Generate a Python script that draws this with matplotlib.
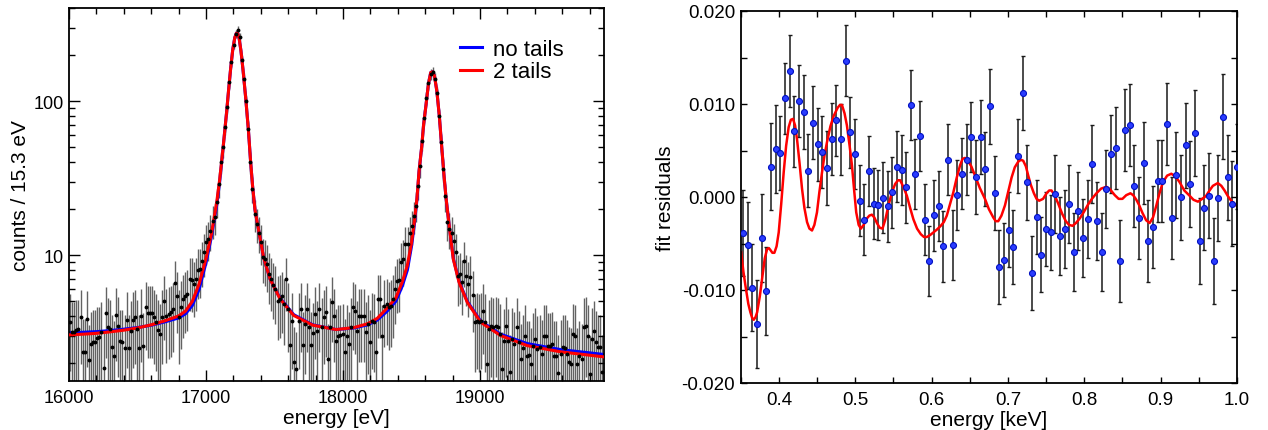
import numpy as np
import matplotlib
matplotlib.use('Agg')
import matplotlib.pyplot as plt
from matplotlib.ticker import (MultipleLocator, LogLocator, NullFormatter,
                               FuncFormatter, FormatStrFormatter)

plt.rcParams['font.family'] = ['Liberation Sans', 'DejaVu Sans']
plt.rcParams['axes.unicode_minus'] = False

# ---------------- left panel data ----------------
BIN_WIDTH = 15.3          # eV
E_START = 16000.0         # eV, lower edge of first bin
counts = [
    3.69, 3.15, 3.15, 3.27, 3.31, 3.94, 2.33, 2.33, 3.84, 2.08,
    2.64, 2.74, 2.74, 2.90, 2.92, 3.15, 1.84, 4.18, 3.39, 3.31,
    2.51, 2.22, 4.08, 3.48, 2.75, 2.74, 2.48, 3.80, 2.48, 3.23,
    3.78, 3.94, 3.30, 2.48, 4.04, 2.58, 4.57, 4.20, 4.20, 4.20,
    3.94, 3.69, 3.27, 3.07, 3.94, 5.05, 4.00, 4.14, 4.25, 4.46,
    6.55, 5.44, 3.94, 4.60, 5.18, 5.44, 5.58, 6.99, 6.89, 6.49,
    6.99, 8.04, 8.11, 9.20, 10.4, 12.1, 12.7, 14.4, 16.7, 17.6,
    22.0, 29.0, 40.0, 50.0, 68.0, 92.0, 132.0, 180.0, 232.0, 272.0,
    290.0, 262.0, 185.0, 140.0, 100.0, 66.0, 40.0, 27.0, 18.5, 15.9,
    14.0, 12.1, 9.66, 9.40, 8.74, 7.53, 6.99, 6.38, 6.00, 5.05,
    5.18, 5.44, 4.80, 6.99, 4.46, 2.62, 3.75, 2.01, 1.82, 3.75,
    4.46, 2.62, 3.57, 4.46, 3.39, 2.62, 3.10, 4.14, 3.23, 4.46,
    3.39, 3.94, 4.25, 2.10, 3.39, 4.93, 4.04, 2.78, 2.99, 3.02,
    3.07, 2.33, 2.99, 2.64, 3.39, 4.57, 4.35, 3.23, 4.04, 4.04,
    4.04, 3.15, 3.57, 2.74, 3.75, 3.66, 2.33, 5.18, 5.18, 2.99,
    4.69, 4.81, 4.57, 4.69, 5.18, 6.00, 6.80, 6.92, 8.95, 9.40,
    11.8, 11.8, 14.0, 15.5, 18.0, 20.9, 28.0, 38.0, 55.0, 78.0,
    105.0, 130.0, 150.0, 155.0, 140.0, 112.0, 80.0, 54.0, 36.0, 24.0,
    16.3, 14.8, 14.0, 12.4, 10.4, 7.35, 7.53, 6.64, 9.20, 7.35,
    6.48, 7.16, 5.50, 3.66, 3.75, 3.66, 3.75, 4.35, 3.66, 1.96,
    3.31, 3.48, 3.39, 3.48, 3.39, 3.07, 1.82, 2.78, 3.48, 2.78,
    1.73, 2.85, 2.64, 3.39, 2.71, 2.11, 2.48, 2.99, 2.22, 2.24,
    1.96, 2.58, 2.85, 2.45, 2.51, 2.27, 2.99, 2.99, 2.58, 2.58,
    2.64, 2.22, 2.22, 1.71, 2.27, 2.51, 2.48, 2.27, 2.01, 1.96,
    3.07, 2.99, 1.96, 2.22, 2.11, 3.39, 3.48, 2.99, 1.69, 2.85,
    3.23, 2.71, 2.51, 2.51, 1.73,
]

fit_energy = [16000, 16100, 16200, 16300, 16400, 16500, 16600, 16700, 16800,
              16850, 16900, 16950, 17000, 17040, 17078, 17100, 17125, 17150,
              17165, 17180, 17195, 17210, 17222, 17232, 17242, 17255, 17270,
              17290, 17310, 17325, 17340, 17358, 17395, 17420, 17467, 17540,
              17640, 17780, 17950, 18080, 18180, 18250, 18320, 18385, 18433,
              18470, 18500, 18520, 18540, 18555, 18575, 18588, 18605, 18623,
              18640, 18655, 18668, 18685, 18703, 18720, 18737, 18752, 18775,
              18805, 18847, 18907, 19005, 19150, 19345, 19590, 19905]
fit_two_tails = [3.03, 3.06, 3.10, 3.17, 3.25, 3.36, 3.52, 3.74, 4.02,
                 4.32, 5.0, 6.5, 9.5, 13.8, 22.0, 31.0, 50.0, 84.0,
                 118.0, 163.0, 215.0, 258.0, 276.0, 274.0, 255.0, 212.0, 160.0,
                 104.0, 64.0, 41.0, 28.0, 19.5, 12.8, 9.7, 7.0, 5.2,
                 4.05, 3.5, 3.28, 3.38, 3.58, 3.88, 4.5, 5.25, 6.7,
                 8.6, 12.0, 16.3, 23.5, 35.0, 51.0, 70.0, 93.0, 128.0,
                 153.0, 155.0, 145.0, 116.0, 80.0, 51.0, 33.0, 23.5, 15.5,
                 9.4, 6.65, 4.93, 3.66, 3.0, 2.58, 2.35, 2.18]
fit_no_tails = [3.13, 3.15, 3.18, 3.23, 3.30, 3.38, 3.50, 3.68, 3.90,
                4.15, 4.7, 6.0, 8.9, 13.2, 21.0, 30.0, 50.0, 84.0,
                118.0, 163.0, 215.0, 258.0, 276.0, 274.0, 255.0, 212.0, 160.0,
                104.0, 64.0, 41.0, 28.0, 19.5, 12.8, 9.7, 7.0, 5.25,
                4.1, 3.52, 3.28, 3.36, 3.52, 3.78, 4.3, 5.0, 6.3,
                8.0, 11.4, 15.6, 23.0, 35.0, 51.0, 70.0, 93.0, 128.0,
                153.0, 155.0, 145.0, 116.0, 80.0, 51.0, 33.0, 23.5, 15.6,
                9.5, 6.75, 5.0, 3.72, 3.06, 2.66, 2.43, 2.26]

# ---------------- right panel data ----------------
RES_E_START = 0.3532      # keV, first residual point
RES_E_STEP = 0.0061       # keV spacing
residuals = [
    -0.0039, -0.0052, -0.00975, -0.01365, -0.0044, -0.0101, 0.00326, 0.00516,
    0.0047, 0.0106, 0.01355, 0.00706, 0.0103, 0.00914, 0.00283, 0.0080,
    0.00566, 0.00484, 0.00312, 0.00624, 0.00824, 0.0062, 0.01466, 0.00695,
    0.00462, -0.0004, -0.00244, 0.0028, -0.00072, -0.00086, -0.00007, -0.0010,
    0.0005, 0.00326, 0.0029, 0.00104, 0.0099, 0.00247, 0.00656, -0.00244,
    -0.00688, -0.00197, -0.00097, -0.0053, 0.00401, -0.00516, 0.00021, 0.0025,
    0.0040, 0.00645, 0.00218, 0.00645, 0.0030, 0.00975, 0.00046, -0.0075,
    -0.0068, -0.0035, -0.00537, 0.00444, 0.01118, 0.00158, -0.00817, -0.00212,
    -0.0062, -0.00347, -0.0038, 0.00032, -0.00416, -0.00344, -0.00072, -0.00588,
    -0.00154, -0.00444, -0.00233, 0.00358, -0.00261, -0.00595, 0.00082, 0.00462,
    0.00523, -0.00685, 0.0072, 0.0077, 0.00115, -0.00229, 0.00369, -0.00476,
    -0.00326, 0.00169, 0.00175, 0.00785, -0.00226, 0.00237, -0.00004, 0.00556,
    0.0014, 0.00691, -0.00476, -0.00115, 0.00014, -0.00688, -0.0001, 0.00864,
    0.00212, -0.00072, 0.00326,
]
residual_err = [
    0.0046, 0.0047, 0.0047, 0.0047, 0.0047, 0.0047, 0.0047, 0.0047,
    0.0040, 0.00385, 0.0039, 0.00385, 0.0039, 0.0040, 0.0039, 0.0039,
    0.0039, 0.0039, 0.0040, 0.0039, 0.00383, 0.0038, 0.0038, 0.0038,
    0.0038, 0.0038, 0.0038, 0.0038, 0.0038, 0.0038, 0.0038, 0.0038,
    0.0038, 0.0038, 0.0038, 0.0038, 0.0038, 0.0038, 0.0038, 0.0038,
    0.0038, 0.0038, 0.0038, 0.0038, 0.0038, 0.0038, 0.0038, 0.0038,
    0.0038, 0.0038, 0.0040, 0.0040, 0.0040, 0.0040, 0.0040, 0.0040,
    0.0040, 0.0040, 0.0040, 0.0040, 0.0040, 0.0040, 0.0040, 0.0040,
    0.0040, 0.0040, 0.0040, 0.0042, 0.0042, 0.0042, 0.0042, 0.0042,
    0.0042, 0.0042, 0.0042, 0.0042, 0.0042, 0.0042, 0.0042, 0.0042,
    0.0044, 0.0044, 0.0044, 0.0044, 0.0044, 0.0044, 0.0044, 0.0044,
    0.0044, 0.0044, 0.0044, 0.0044, 0.0044, 0.0046, 0.0046, 0.0046,
    0.0046, 0.0046, 0.0046, 0.0046, 0.0046, 0.0046, 0.0046, 0.0046,
    0.0046, 0.0046, 0.0046,
]
model_keV = [
    0.3506, 0.3535, 0.3562, 0.3600, 0.3627, 0.3650, 0.3671, 0.3695, 0.3715,
    0.3750, 0.3780, 0.3815, 0.3846, 0.3870, 0.3889, 0.3915, 0.3941, 0.3970,
    0.3998, 0.4030, 0.4063, 0.4095, 0.4128, 0.4157, 0.4185, 0.4212, 0.4238,
    0.4270, 0.4303, 0.4335, 0.4369, 0.4400, 0.4434, 0.4465, 0.4499, 0.4530,
    0.4565, 0.4598, 0.4630, 0.4675, 0.4717, 0.4770, 0.4800, 0.4826, 0.4860,
    0.4891, 0.4925, 0.4957, 0.4985, 0.5013, 0.5045, 0.5074, 0.5110, 0.5153,
    0.5185, 0.5218, 0.5250, 0.5284, 0.5320, 0.5357, 0.5395, 0.5436, 0.5480,
    0.5523, 0.5560, 0.5588, 0.5630, 0.5676, 0.5720, 0.5762, 0.5810, 0.5859,
    0.5900, 0.5937, 0.5980, 0.6024, 0.6070, 0.6120, 0.6160, 0.6199, 0.6240,
    0.6285, 0.6330, 0.6373, 0.6405, 0.6438, 0.6475, 0.6520, 0.6569, 0.6630,
    0.6699, 0.6750, 0.6808, 0.6840, 0.6873, 0.6915, 0.6961, 0.7005, 0.7048,
    0.7090, 0.7135, 0.7170, 0.7200, 0.7235, 0.7266, 0.7300, 0.7340, 0.7375,
    0.7409, 0.7460, 0.7506, 0.7540, 0.7571, 0.7610, 0.7658, 0.7710, 0.7758,
    0.7800, 0.7846, 0.7890, 0.7941, 0.7995, 0.8050, 0.8100, 0.8159, 0.8220,
    0.8290, 0.8340, 0.8399, 0.8450, 0.8499, 0.8550, 0.8604, 0.8640, 0.8682,
    0.8720, 0.8761, 0.8810, 0.8856, 0.8900, 0.8944, 0.8985, 0.9030, 0.9085,
    0.9140, 0.9195, 0.9248, 0.9310, 0.9379, 0.9430, 0.9488, 0.9545, 0.9597,
    0.9640, 0.9684, 0.9749, 0.9795, 0.9837, 0.9880, 0.9924, 0.9989,
]
model_res = [
    -0.00595, -0.0080, -0.00953, -0.0115, -0.0124, -0.0130, -0.0132, -0.0129, -0.0124,
    -0.0107, -0.0088, -0.0066, -0.0056, -0.0055, -0.0057, -0.0060, -0.0060, -0.0053,
    -0.0038, -0.0008, 0.00265, 0.0055, 0.0075, 0.0083, 0.0084, 0.0077, 0.0062,
    0.0037, 0.0009, -0.0012, -0.0027, -0.0034, -0.0036, -0.0030, -0.00165, 0.0005,
    0.00265, 0.0045, 0.0059, 0.0076, 0.0087, 0.0096, 0.0099, 0.0099, 0.0090,
    0.0077, 0.0056, 0.0034, 0.0008, -0.00165, -0.0030, -0.0034, -0.0030, -0.0023,
    -0.0020, -0.0019, -0.0022, -0.0028, -0.0033, -0.0034, -0.0024, -0.0009, 0.0005,
    0.0014, 0.0018, 0.0018, 0.0011, 0.00014, -0.0012, -0.0024, -0.0034, -0.0040,
    -0.0043, -0.0043, -0.0041, -0.0038, -0.0035, -0.0031, -0.0027, -0.0020, -0.0008,
    0.0005, 0.0021, 0.0034, 0.0041, 0.0042, 0.0039, 0.0033, 0.0023, 0.0010,
    -0.0002, -0.0013, -0.0022, -0.0026, -0.0026, -0.0020, -0.0009, 0.0006, 0.0021,
    0.0032, 0.0038, 0.0040, 0.0039, 0.0033, 0.0023, 0.0013, 0.0004, -0.0002,
    -0.0004, -0.0002, 0.0004, 0.0007, 0.0007, 0.0002, -0.0007, -0.0018, -0.0026,
    -0.0030, -0.0031, -0.0028, -0.0023, -0.0016, -0.0008, -0.0002, 0.0004, 0.0009,
    0.0011, 0.0008, 0.0002, -0.0002, -0.0002, 0.0002, 0.0004, 0.0002, -0.0003,
    -0.0009, -0.0017, -0.0025, -0.0028, -0.0022, -0.0009, 0.0004, 0.0016, 0.0023,
    0.0025, 0.0022, 0.0016, 0.0007, 0.00014, -0.0003, -0.0005, -0.0002, 0.00014,
    0.0007, 0.0012, 0.0015, 0.0012, 0.0007, 0.0001, -0.0004, -0.0009,
]

# ---------------- figure ----------------
W, H = 1268, 431
fig = plt.figure(figsize=(W / 100, H / 100), dpi=100)
ax1 = fig.add_axes([69 / W, (H - 382) / H, 535 / W, 373 / H])
ax2 = fig.add_axes([740.7 / W, (H - 384) / H, 496.3 / W, 372 / H])

counts_arr = np.asarray(counts)
energy = E_START + BIN_WIDTH * (np.arange(len(counts)) + 0.5)
count_err = np.sqrt(counts_arr)

ax1.errorbar(energy, counts_arr, yerr=count_err, fmt='none', ecolor='#636363',
             elinewidth=1.0, capsize=0, zorder=1)
ax1.plot(fit_energy, fit_no_tails, color='#0000ff', lw=2.2, zorder=2, label='no tails')
ax1.plot(fit_energy, fit_two_tails, color='#ff0000', lw=2.2, zorder=3, label='2 tails')
ax1.plot(energy, counts_arr, 'o', color='black', ms=2.8, mew=0, zorder=4)

ax1.set_yscale('log')
ax1.set_xlim(16000, 19905)
ax1.set_ylim(1.52, 402)
ax1.xaxis.set_major_locator(MultipleLocator(1000))
ax1.xaxis.set_minor_locator(MultipleLocator(200))
ax1.yaxis.set_major_locator(LogLocator(base=10, numticks=10))
ax1.yaxis.set_minor_locator(LogLocator(base=10, subs=np.arange(2, 10), numticks=20))
ax1.yaxis.set_major_formatter(FuncFormatter(lambda v, p: f'{v:g}'))
ax1.yaxis.set_minor_formatter(NullFormatter())
ax1.tick_params(which='both', direction='in', top=True, right=True,
                labelsize=13, width=1.0)
ax1.tick_params(which='major', length=8)
ax1.tick_params(which='minor', length=4)
ax1.tick_params(axis='x', pad=6)
ax1.tick_params(axis='y', pad=4)
ax1.set_xlabel('energy [eV]', fontsize=15, labelpad=1)
ax1.set_ylabel('counts / 15.3 eV', fontsize=15, labelpad=2)
for s in ax1.spines.values():
    s.set_linewidth(1.3)
ax1.legend(loc='upper left', bbox_to_anchor=(0.731, 0.918), frameon=False,
           fontsize=16, handlelength=1.0, handletextpad=0.5, labelspacing=0.08,
           borderpad=0, borderaxespad=0)

# right panel
res_energy = RES_E_START + RES_E_STEP * np.arange(len(residuals))
ax2.errorbar(res_energy, residuals, yerr=residual_err, fmt='none', ecolor='#1a1a1a',
             elinewidth=1.1, capsize=1.3, capthick=1.0, zorder=1)
ax2.plot(model_keV, model_res, color='#ff0000', lw=1.8, zorder=2)
ax2.plot(res_energy, residuals, 'o', ms=4.3, mfc='#2a3cff', mec='#0010c0', mew=0.8,
         zorder=3)
ax2.set_xlim(0.35, 1.0)
ax2.set_ylim(-0.02, 0.02)
ax2.xaxis.set_major_locator(MultipleLocator(0.1))
ax2.xaxis.set_minor_locator(MultipleLocator(0.05))
ax2.yaxis.set_major_locator(MultipleLocator(0.01))
ax2.yaxis.set_minor_locator(MultipleLocator(0.005))
ax2.xaxis.set_major_formatter(FormatStrFormatter('%.1f'))
ax2.yaxis.set_major_formatter(FormatStrFormatter('%.3f'))
ax2.tick_params(which='both', direction='in', top=True, right=True,
                labelsize=13.5, width=1.0, length=4)
ax2.tick_params(axis='x', pad=6)
ax2.tick_params(axis='y', pad=4)
ax2.set_xlabel('energy [keV]', fontsize=15, labelpad=1)
ax2.set_ylabel('fit residuals', fontsize=15, labelpad=5)
for s in ax2.spines.values():
    s.set_linewidth(1.3)

fig.savefig('out.png', dpi=100)
